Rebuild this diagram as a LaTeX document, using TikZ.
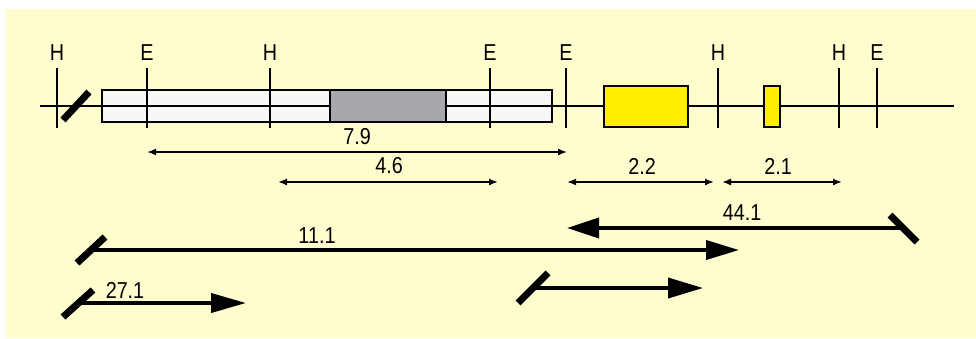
\documentclass[tikz,border=0pt]{standalone}
\usepackage{fontspec}
\setmainfont{Liberation Sans}
\newfontfamily\labelfont[FakeStretch=0.86]{Liberation Sans}
\usetikzlibrary{arrows.meta}
\definecolor{paper}{RGB}{255,252,206}
\definecolor{introngray}{RGB}{168,168,172}
\definecolor{exonyellow}{RGB}{255,238,0}

\begin{document}
\begin{tikzpicture}[x=1pt,y=-1pt,
    site/.style={font=\labelfont\fontsize{23}{27}\selectfont,inner sep=0pt},
    num/.style={font=\labelfont\fontsize{23}{27}\selectfont,inner sep=0pt},
    dim/.style={line width=1.7pt,{Latex[length=9pt,width=7pt]}-{Latex[length=9pt,width=7pt]}},
    big/.style={line width=3.8pt},
    brk/.style={line width=7pt}]
    \useasboundingbox (0,0) rectangle (976,338);
    \fill[paper] (6,9) rectangle (976,338);
    % map
    \filldraw[fill=white!97!black,line width=1.8pt] (102,90) rectangle (552,122);
    \draw[line width=1.8pt] (40,106) -- (954,106);
    \filldraw[fill=introngray,line width=1.8pt] (330,90) rectangle (446,122);
    \filldraw[fill=exonyellow,line width=1.8pt] (604,86) rectangle (688,127);
    \filldraw[fill=exonyellow,line width=1.8pt] (764,86) rectangle (780,127);
    \draw[brk] (76,106) ++(-13,14) -- ++(26,-28);
    \foreach \x/\t/\n in {57/H/h1,147/E/e1,270/H/h2,490/E/e2,566/E/e3,718/H/h3,839/H/h4,877/E/e4}{
      \node[site] (\n) at (\x,53) {\t};
      \draw[line width=2pt] (\x,68) -- (\x,128);
    }
    % distances
    \coordinate (a79) at (147,152); \coordinate (b79) at (567,152);
    \coordinate (a46) at (278,182); \coordinate (b46) at (498,182);
    \coordinate (a22) at (567,182); \coordinate (b22) at (714,182);
    \coordinate (a21) at (722,182); \coordinate (b21) at (842,182);
    \draw[dim] (a79) -- (b79);
    \draw[dim] (a46) -- (b46);
    \draw[dim] (a22) -- (b22);
    \draw[dim] (a21) -- (b21);
    \node[num] (l79) at (357,137) {7.9};
    \node[num] (l46) at (389,166) {4.6};
    \node[num] (l22) at (642,166) {2.2};
    \node[num] (l21) at (778,166) {2.1};
    % long range
    \coordinate (s44) at (903,228); \coordinate (t44) at (567,228);
    \coordinate (s11) at (91,250);  \coordinate (t11) at (739,250);
    \coordinate (s27) at (78,303);  \coordinate (t27) at (246,303);
    \coordinate (sx) at (533,288);  \coordinate (tx) at (703,288);
    \draw[big,-{Triangle[length=32pt,width=20pt]}] (s44) -- (t44);
    \draw[big,-{Triangle[length=33pt,width=19pt]}] (s11) -- (t11);
    \draw[big,-{Triangle[length=35pt,width=19pt]}] (s27) -- (t27);
    \draw[big,-{Triangle[length=35pt,width=20pt]}] (sx) -- (tx);
    \draw[brk] (s44) ++(-13,-13) -- ++(27,27);
    \draw[brk] (s11) ++(-14,13) -- ++(28,-26);
    \draw[brk] (s27) ++(-15,14) -- ++(30,-27);
    \draw[brk] (sx) ++(-15,15) -- ++(30,-30);
    \node[num] (l44) at (742,213) {44.1};
    \node[num] (l11) at (317,236) {11.1};
    \node[num] (l27) at (125,290) {27.1};
\end{tikzpicture}
\end{document}
